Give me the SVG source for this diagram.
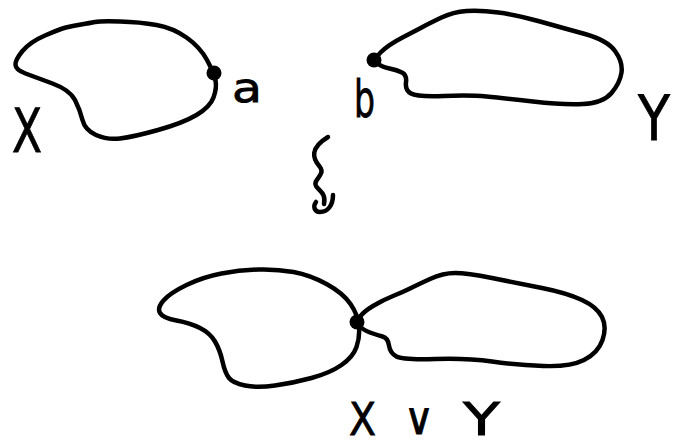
<svg xmlns="http://www.w3.org/2000/svg" width="675" height="446" viewBox="0 0 675 446">
<style>
.c{fill:none;stroke:#000;stroke-width:4.5;stroke-linecap:round;stroke-linejoin:round}
.t{font-family:"DejaVu Sans","Liberation Sans",sans-serif;fill:#000;stroke:#000;stroke-width:0.8}
.d{fill:#000}
</style>
<rect width="675" height="446" fill="#fff"/>
<g id="spaceX">
<path class="c" d="M15.5,65 Q15,60 22.5,51 Q30,42 45,35.5 Q60,29 66,27.5 Q72,26 81,24.5 Q90,23 95,22 Q100,21 120,21.5 Q140,22 156.5,25 Q173,28 186.5,37.5 Q200,47 207,60 Q214,73 215.5,80.5 Q217,88 213.5,97.5 Q210,107 196.5,115 Q183,123 158,130 Q133,137 120,138.5 Q107,140 96,135 Q85,130 82.5,120 Q80,110 75,100 Q70,90 52.5,83.5 Q35,77 25.5,73.5 Q16,70 15.5,65 Z"/>
<circle class="d" cx="214" cy="73" r="7.5"/>
<text class="t" x="12" y="152" font-size="60" textLength="30" lengthAdjust="spacingAndGlyphs">X</text>
<text class="t" x="232" y="102" font-size="40" textLength="30" lengthAdjust="spacingAndGlyphs">a</text>
</g>
<g id="spaceY">
<path class="c" d="M377.5,63.5 Q373,60 380.5,52.5 Q388,45 402.5,37.5 Q417,30 423.5,26.5 Q430,23 441.5,17.5 Q453,12 466.5,11 Q480,10 498.5,12.5 Q517,15 540,21.5 Q563,28 585,34 Q607,40 615,51 Q623,62 621.5,72.5 Q620,83 611.5,93 Q603,103 583,104 Q563,105 533,101.5 Q503,98 486.5,96.5 Q470,95 443.5,96 Q417,97 411,93.5 Q405,90 406,82.5 Q407,75 402,72.5 Q397,70 389.5,68.5 Q382,67 377.5,63.5 Z"/>
<circle class="d" cx="374" cy="60" r="7.5"/>
<text class="t" x="354" y="117" font-size="52" textLength="21" lengthAdjust="spacingAndGlyphs">b</text>
<text class="t" x="638" y="140" font-size="62" textLength="32" lengthAdjust="spacingAndGlyphs">Y</text>
</g>
<g id="equiv">
<path class="c" d="M328,137 C310,148 312,158 320,167 C326,175 312,180 316,186 C320,192 326,193 324,204"/>
<path class="c" d="M333,195 C333,205 328,212 320,212 C314,212 313,206 316,202"/>
</g>
<g id="wedge">
<path class="c" d="M160,313 Q157,308 163.5,300.5 Q170,293 186.5,285 Q203,277 221.5,273.5 Q240,270 258.5,269.5 Q277,269 293.5,272 Q310,275 326.5,284 Q343,293 350.5,304 Q358,315 359,326 Q360,337 356.5,347 Q353,357 341.5,365 Q330,373 311.5,378 Q293,383 275,385.5 Q257,388 245,385.5 Q233,383 229,378 Q225,373 222.5,361.5 Q220,350 215,341.5 Q210,333 200,328 Q190,323 176.5,320.5 Q163,318 160,313 Z"/>
<path class="c" d="M360,326 Q357,322 360,317 Q363,312 373,306 Q383,300 393,296 Q403,292 410,288.5 Q417,285 430,279 Q443,273 455,273 Q467,273 492,278 Q517,283 542,288 Q567,293 582,300 Q597,307 602,317 Q607,327 602.5,340 Q598,353 584,360 Q570,367 543.5,366 Q517,365 492,361.5 Q467,358 435,359 Q403,360 396.5,356.5 Q390,353 389,345.5 Q388,338 382.5,336.5 Q377,335 370,332.5 Q363,330 360,326 Z"/>
<circle class="d" cx="357" cy="322" r="7.5"/>
<text class="t" x="349" y="435" font-size="44" textLength="27" lengthAdjust="spacingAndGlyphs">X</text>
<text class="t" x="404" y="434" font-size="44" textLength="30" lengthAdjust="spacingAndGlyphs">∨</text>
<text class="t" x="463" y="435" font-size="44" textLength="37" lengthAdjust="spacingAndGlyphs">Y</text>
</g>
</svg>
